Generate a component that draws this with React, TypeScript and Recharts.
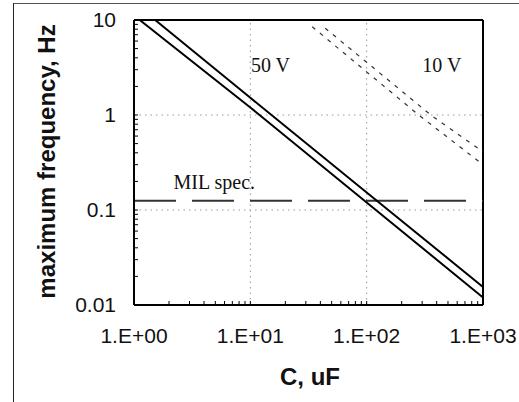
import React from "react";
import {
  LineChart,
  Line,
  XAxis,
  YAxis,
  ReferenceLine,
  ReferenceDot,
} from "recharts";

// capacitance (uF) vs maximum frequency (Hz)
const C_50V_A = [1.12, 10, 100, 1000];
const F_50V_A = [10, 1.2, 0.12, 0.012];
const C_50V_B = [1.52, 10, 100, 1000];
const F_50V_B = [10, 1.52, 0.153, 0.0155];
const C_10V_A = [34, 280, 1000];
const F_10V_A = [8.5, 1, 0.3];
const C_10V_B = [44, 356, 1000];
const F_10V_B = [8.2, 1, 0.41];
const C_MIL = [1, 1000];
const F_MIL = [0.125, 0.125];

const X_MAJOR = [1, 10, 100, 1000];
const X_MAJOR_LABELS = ["1.E+00", "1.E+01", "1.E+02", "1.E+03"];
const X_MINOR = [2, 3, 4, 5, 6, 7, 8, 9, 20, 30, 40, 50, 60, 70, 80, 90, 200, 300, 400, 500, 600, 700, 800, 900];
const Y_MAJOR = [0.01, 0.1, 1, 10];
const Y_MAJOR_LABELS = ["0.01", "0.1", "1", "10"];
const Y_MINOR = [
  0.02, 0.03, 0.04, 0.05, 0.06, 0.07, 0.08, 0.09,
  0.2, 0.3, 0.4, 0.5, 0.6, 0.7, 0.8, 0.9,
  2, 3, 4, 5, 6, 7, 8, 9,
];

// annotation anchors (C, f)
const NOTES = [
  { text: "50 V", c: 14.9, f: 3.33 },
  { text: "10 V", c: 443, f: 3.33 },
  { text: "MIL spec.", c: 4.9, f: 0.2 },
];

const toRows = (cs: number[], fs: number[]) => cs.map((c, i) => ({ c, f: fs[i] }));

const xTicks = [...X_MAJOR, ...X_MINOR].sort((a, b) => a - b);
const yTicks = [...Y_MAJOR, ...Y_MINOR].sort((a, b) => a - b);

const xFmt = (v: number) => {
  const i = X_MAJOR.indexOf(v);
  return i >= 0 ? X_MAJOR_LABELS[i] : "";
};
const yFmt = (v: number) => {
  const i = Y_MAJOR.indexOf(v);
  return i >= 0 ? Y_MAJOR_LABELS[i] : "";
};

const SANS = "Arial, 'Liberation Sans', sans-serif";
const SERIF = "'Times New Roman', 'Liberation Serif', serif";

export default function App() {
  return (
    <div
      style={{
        position: "absolute",
        left: 0,
        top: 0,
        width: 519,
        height: 402,
        background: "#fff",
        overflow: "hidden",
      }}
    >
      {/* outer chart frame, only left and top edges visible in the scan */}
      <div
        style={{
          position: "absolute",
          left: 13,
          top: 3,
          width: 520,
          height: 420,
          borderLeft: "1.5px solid #222",
          borderTop: "1.5px solid #555",
        }}
      />
      <LineChart
        width={519}
        height={402}
        margin={{ top: 20, right: 36, bottom: 0, left: 0 }}
        style={{ position: "absolute", left: 0, top: 0 }}
      >
        <XAxis
          dataKey="c"
          type="number"
          scale="log"
          domain={[1, 1000]}
          allowDataOverflow
          ticks={xTicks}
          interval={0}
          tickFormatter={xFmt}
          height={97}
          tickSize={-4}
          tickMargin={27}
          axisLine={{ stroke: "#000", strokeWidth: 2 }}
          tickLine={{ stroke: "#000" }}
          tick={{ fontSize: 21, fill: "#111", fontFamily: SANS }}
          label={() => (
            <text
              x={310}
              y={385}
              textAnchor="middle"
              fontSize={24}
              fontWeight="bold"
              fontFamily={SANS}
              fill="#111"
            >
              C, uF
            </text>
          )}
        />
        <YAxis
          dataKey="f"
          type="number"
          scale="log"
          domain={[0.01, 10]}
          allowDataOverflow
          ticks={yTicks}
          interval={0}
          tickFormatter={yFmt}
          width={134}
          tickSize={-4}
          tickMargin={22}
          axisLine={{ stroke: "#000", strokeWidth: 2 }}
          tickLine={{ stroke: "#000" }}
          tick={{ fontSize: 21, fill: "#111", fontFamily: SANS }}
          label={() => (
            <text
              x={0}
              y={0}
              transform="translate(55,161.5) rotate(-90)"
              textAnchor="middle"
              fontSize={24}
              fontWeight="bold"
              fontFamily={SANS}
              fill="#111"
            >
              maximum frequency, Hz
            </text>
          )}
        />

        {/* dotted grid at the decades */}
        <ReferenceLine x={10} stroke="#999" strokeDasharray="1.5 4" />
        <ReferenceLine x={100} stroke="#999" strokeDasharray="1.5 4" />
        <ReferenceLine y={1} stroke="#999" strokeDasharray="1.5 4" />
        <ReferenceLine y={0.1} stroke="#999" strokeDasharray="1.5 4" />
        {/* plot box top / right */}
        <ReferenceLine y={10} stroke="#000" strokeWidth={2} />
        <ReferenceLine x={1000} stroke="#000" strokeWidth={2} />

        <Line
          data={toRows(C_MIL, F_MIL)}
          dataKey="f"
          stroke="#333"
          strokeWidth={2}
          strokeDasharray="42 16"
          dot={false}
          activeDot={false}
          isAnimationActive={false}
        />
        <Line
          data={toRows(C_50V_A, F_50V_A)}
          dataKey="f"
          stroke="#000"
          strokeWidth={2}
          dot={false}
          activeDot={false}
          isAnimationActive={false}
        />
        <Line
          data={toRows(C_50V_B, F_50V_B)}
          dataKey="f"
          stroke="#000"
          strokeWidth={2}
          dot={false}
          activeDot={false}
          isAnimationActive={false}
        />
        <Line
          data={toRows(C_10V_A, F_10V_A)}
          dataKey="f"
          stroke="#333"
          strokeWidth={1.2}
          strokeDasharray="4 6"
          dot={false}
          activeDot={false}
          isAnimationActive={false}
        />
        <Line
          data={toRows(C_10V_B, F_10V_B)}
          dataKey="f"
          stroke="#333"
          strokeWidth={1.2}
          strokeDasharray="4 6"
          dot={false}
          activeDot={false}
          isAnimationActive={false}
        />

        {NOTES.map((n) => (
          <ReferenceDot
            key={n.text}
            x={n.c}
            y={n.f}
            r={0}
            stroke="none"
            label={{
              value: n.text,
              position: "center",
              fontSize: 20,
              fontFamily: SERIF,
              fill: "#111",
            }}
          />
        ))}
      </LineChart>
    </div>
  );
}
